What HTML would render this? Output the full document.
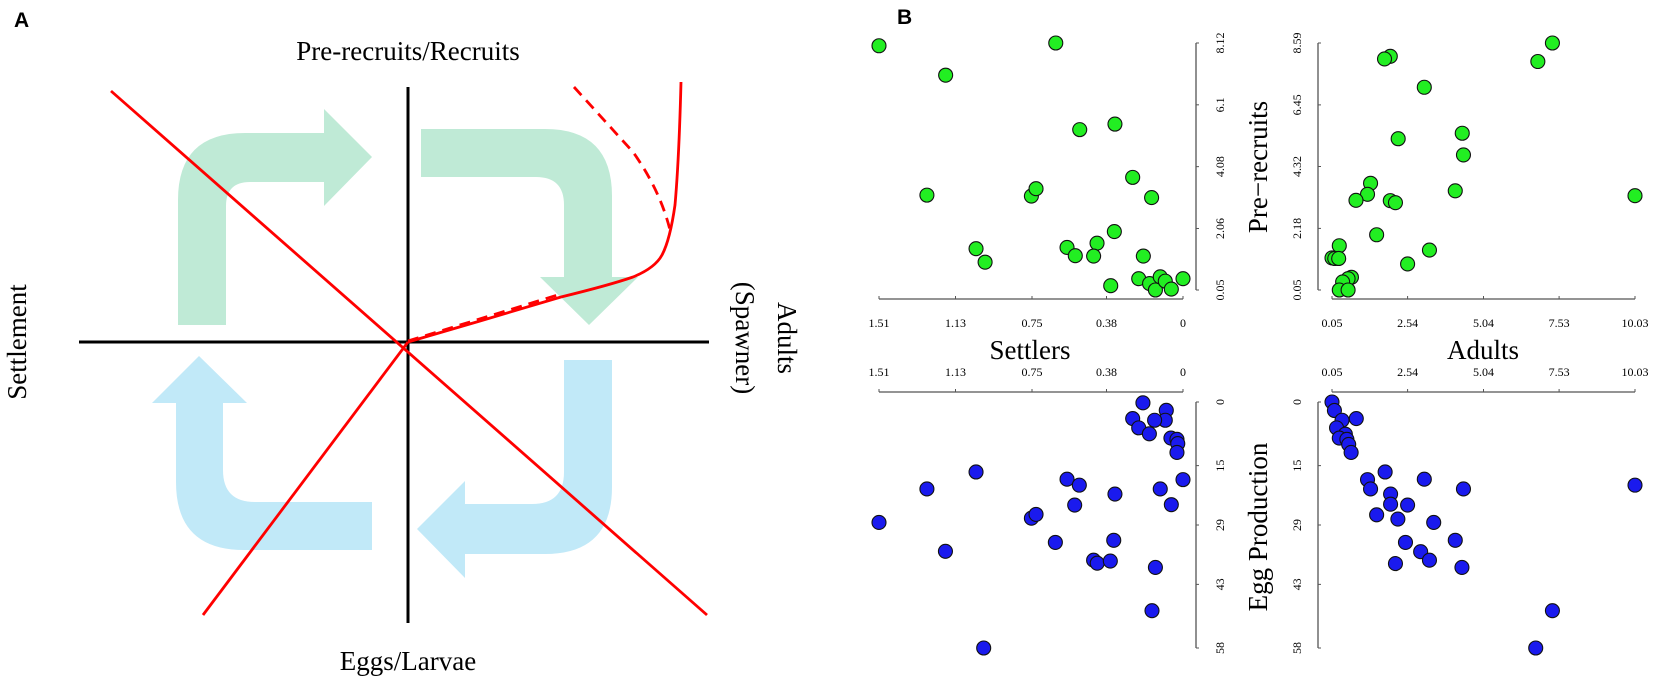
<!DOCTYPE html>
<html><head><meta charset="utf-8"><style>
html,body{margin:0;padding:0;background:#fff;}
svg{display:block;}
text{font-family:"Liberation Serif",serif;}
</style></head><body>
<svg id="fig" width="1653" height="677" viewBox="0 0 1653 677" xmlns="http://www.w3.org/2000/svg">
<g>
<text x="14" y="27" font-weight="bold" font-size="21" style="font-family:'Liberation Sans',sans-serif">A</text>
<text x="408" y="60" text-anchor="middle" font-size="27">Pre-recruits/Recruits</text>
<text x="408" y="670" text-anchor="middle" font-size="27">Eggs/Larvae</text>
<text transform="translate(26,342) rotate(-90)" text-anchor="middle" font-size="27">Settlement</text>
<text transform="translate(778,338) rotate(90)" text-anchor="middle" font-size="27">Adults</text>
<text transform="translate(736,338) rotate(90)" text-anchor="middle" font-size="27">(Spawner)</text>
<path fill="#bfead6" d="M178,325 L178,200 Q178,133 245,133 L324,133 L324,109 L372,157 L324,206 L324,182 L250,182 Q226,182 226,206 L226,325 Z"/>
<path fill="#bfead6" d="M421,129 L545,129 Q612,129 612,196 L612,277 L638,277 L589,325 L540,277 L564,277 L564,205 Q564,177 536,177 L421,177 Z"/>
<path fill="#c1e9f8" d="M612,360 L612,487 Q612,554 545,554 L465,554 L465,578 L417,529 L465,481 L465,504 L532,504 Q564,504 564,472 L564,360 Z"/>
<path fill="#c1e9f8" d="M372,502 L372,550 L244,550 Q176,550 176,482 L176,403 L152,403 L199,356 L247,403 L223,403 L223,470 Q223,502 255,502 Z"/>
<line x1="408" y1="87" x2="408" y2="623" stroke="#000" stroke-width="3"/>
<line x1="79" y1="342" x2="709" y2="342" stroke="#000" stroke-width="3"/>
<line x1="111" y1="91" x2="707" y2="615" stroke="#f00" stroke-width="2.8"/>
<line x1="203" y1="615" x2="408" y2="342" stroke="#f00" stroke-width="2.8"/>
<path d="M408,342 L480,321 L561,297 Q610,285 633,277 Q655,268 662,255 Q670,240 675,205 Q679,160 681,82" fill="none" stroke="#f00" stroke-width="2.8"/>
<path d="M574,87 L633,152 Q660,190 670,230 M408,341 L561,294" fill="none" stroke="#f00" stroke-width="2.8" stroke-dasharray="11,7"/>
</g>
<text x="897" y="24" font-weight="bold" font-size="21" style="font-family:'Liberation Sans',sans-serif">B</text>
<g id="pb"></g>
</svg>
<script>
const tlSettlers=[1.51,0.632,1.179,0.513,0.338,0.25,1.272,0.753,0.730,0.156,0.341,1.028,0.983,0.576,0.535,0.427,0.444,0.197,0.359,0.22,0.166,0.137,0.113,0.088,0.058,0];
const tlRecruits=[8.03,8.12,7.07,5.29,5.47,3.73,3.15,3.12,3.36,3.07,1.96,1.40,0.96,1.44,1.17,1.58,1.16,1.16,0.19,0.42,0.26,0.05,0.48,0.34,0.08,0.42];
const trAdults=[7.31,6.83,1.97,1.78,3.09,2.23,4.34,4.38,4.11,10.03,1.32,1.22,0.84,1.97,2.14,1.52,3.26,2.54,0.29,0.05,0.14,0.27,0.69,0.58,0.40,0.29,0.58];
const trRecruits=[8.59,7.95,8.13,8.04,7.06,5.28,5.47,4.72,3.48,3.31,3.74,3.36,3.15,3.14,3.07,1.96,1.43,0.95,1.58,1.16,1.14,1.14,0.49,0.44,0.33,0.05,0.05];
const blSettlers=[0.199,0.083,0.088,0.141,0.25,0.22,0.167,0.06,0.03,0.026,0.03,0,0.113,0.058,0.338,0.576,0.515,0.538,1.028,1.272,1.51,0.753,0.730,0.634,0.344,1.18,0.444,0.426,0.361,0.137,0.154,0.99];
const blEggs=[0.2,1.96,4.3,4.3,3.9,6.1,7.5,8.5,8.8,9.8,11.9,18.3,20.5,24.2,21.7,18.2,19.6,24.3,16.5,20.5,28.4,27.4,26.5,33.1,32.6,35.2,37.3,38,37.5,39,49.2,58];
const brAdults=[0.05,0.13,0.38,0.85,0.2,0.49,0.29,0.54,0.6,0.68,1.80,3.09,1.22,1.32,4.38,10.03,1.98,1.98,2.54,1.52,2.22,3.40,4.11,2.47,2.97,3.26,2.14,4.33,7.31,6.76];
const brEggs=[0,2,4.3,3.9,6.1,7.6,8.5,8.8,10,11.9,16.5,18.2,18.3,20.5,20.5,19.6,21.7,24.1,24.3,26.6,27.6,28.4,32.6,33.1,35.3,37.3,38.1,39,49.2,58];
const settlerTicks=[1.51,1.13,0.75,0.38,0];
const recruitTicksL=[8.12,6.1,4.08,2.06,0.05];
const recruitTicksR=[8.59,6.45,4.32,2.18,0.05];
const adultTicks=[0.05,2.54,5.04,7.53,10.03];
const eggTicks=[0,15,29,43,58];
const sx=v=>1183-v/1.51*304;
const ax=v=>1332+(v-0.05)/9.98*303;
const ly=v=>290-(v-0.05)/8.07*247;
const ry=v=>290-(v-0.05)/8.54*247;
const ey=v=>402+v/58*246;
const NS='http://www.w3.org/2000/svg';
const g=document.getElementById('pb');
function mk(tag,attrs,txt){const e=document.createElementNS(NS,tag);for(const k in attrs)e.setAttribute(k,attrs[k]);if(txt!==undefined)e.textContent=txt;g.appendChild(e);return e;}
let e;
e=mk('line',{x1:sx(1.51),x2:sx(0),y1:299,y2:299,stroke:'#555','stroke-width':1.3});


e=mk('line',{x1:sx(1.51),x2:sx(0),y1:392,y2:392,stroke:'#555','stroke-width':1.3});


e=mk('line',{x1:ax(0.05),x2:ax(10.03),y1:299,y2:299,stroke:'#555','stroke-width':1.3});


e=mk('line',{x1:ax(0.05),x2:ax(10.03),y1:392,y2:392,stroke:'#555','stroke-width':1.3});


e=mk('line',{x1:1196,x2:1196,y1:ly(8.12),y2:ly(0.05),stroke:'#555','stroke-width':1.3});


e=mk('line',{x1:1318,x2:1318,y1:ry(8.59),y2:ry(0.05),stroke:'#555','stroke-width':1.3});


e=mk('line',{x1:1196,x2:1196,y1:ey(0),y2:ey(58),stroke:'#555','stroke-width':1.3});


e=mk('line',{x1:1318,x2:1318,y1:ey(0),y2:ey(58),stroke:'#555','stroke-width':1.3});


settlerTicks.forEach(t=>{
  e=mk('text',{x:sx(t),y:327,'text-anchor':'middle','font-size':12},String(t));
  
  
  e=mk('text',{x:sx(t),y:376,'text-anchor':'middle','font-size':12},String(t));
  
  
  mk('line',{x1:sx(t),x2:sx(t),y1:296,y2:299,stroke:'#555'});
  mk('line',{x1:sx(t),x2:sx(t),y1:389,y2:392,stroke:'#555'});
});
adultTicks.forEach(t=>{
  e=mk('text',{x:ax(t),y:327,'text-anchor':'middle','font-size':12},String(t));
  
  
  e=mk('text',{x:ax(t),y:376,'text-anchor':'middle','font-size':12},String(t));
  
  
  mk('line',{x1:ax(t),x2:ax(t),y1:296,y2:299,stroke:'#555'});
  mk('line',{x1:ax(t),x2:ax(t),y1:389,y2:392,stroke:'#555'});
});
recruitTicksL.forEach(t=>{
  e=mk('text',{transform:`translate(1224,${ly(t)}) rotate(-90)`,'text-anchor':'middle','font-size':12},String(t));
  
  
  mk('line',{x1:1196,x2:1199,y1:ly(t),y2:ly(t),stroke:'#555'});
});
recruitTicksR.forEach(t=>{
  e=mk('text',{transform:`translate(1301,${ry(t)}) rotate(-90)`,'text-anchor':'middle','font-size':12},String(t));
  
  
  mk('line',{x1:1318,x2:1321,y1:ry(t),y2:ry(t),stroke:'#555'});
});
eggTicks.forEach(t=>{
  e=mk('text',{transform:`translate(1224,${ey(t)}) rotate(-90)`,'text-anchor':'middle','font-size':12},String(t));
  
  
  e=mk('text',{transform:`translate(1301,${ey(t)}) rotate(-90)`,'text-anchor':'middle','font-size':12},String(t));
  
  
  mk('line',{x1:1196,x2:1199,y1:ey(t),y2:ey(t),stroke:'#555'});
  mk('line',{x1:1318,x2:1321,y1:ey(t),y2:ey(t),stroke:'#555'});
});
e=mk('text',{x:1030,y:359,'text-anchor':'middle','font-size':27},'Settlers');


e=mk('text',{x:1483,y:359,'text-anchor':'middle','font-size':27},'Adults');


e=mk('text',{transform:'translate(1267,167) rotate(-90)','text-anchor':'middle','font-size':27},'Pre\u2212recruits');


e=mk('text',{transform:'translate(1267,527) rotate(-90)','text-anchor':'middle','font-size':27},'Egg Production');


function dots(xs,ys,fx,fy,fill,name){
  xs.forEach((v,i)=>{
    const c=mk('circle',{cx:fx(v),cy:fy(ys[i]),r:7,fill:fill,stroke:'#111','stroke-width':1.1});
    
    
  });
}
dots(tlSettlers,tlRecruits,sx,ly,'#22ee22','settlers-recruits-point');
dots(trAdults,trRecruits,ax,ry,'#22ee22','adults-recruits-point');
dots(blSettlers,blEggs,sx,ey,'#1a1aee','settlers-eggs-point');
dots(brAdults,brEggs,ax,ey,'#1a1aee','adults-eggs-point');
</script>
</body></html>
